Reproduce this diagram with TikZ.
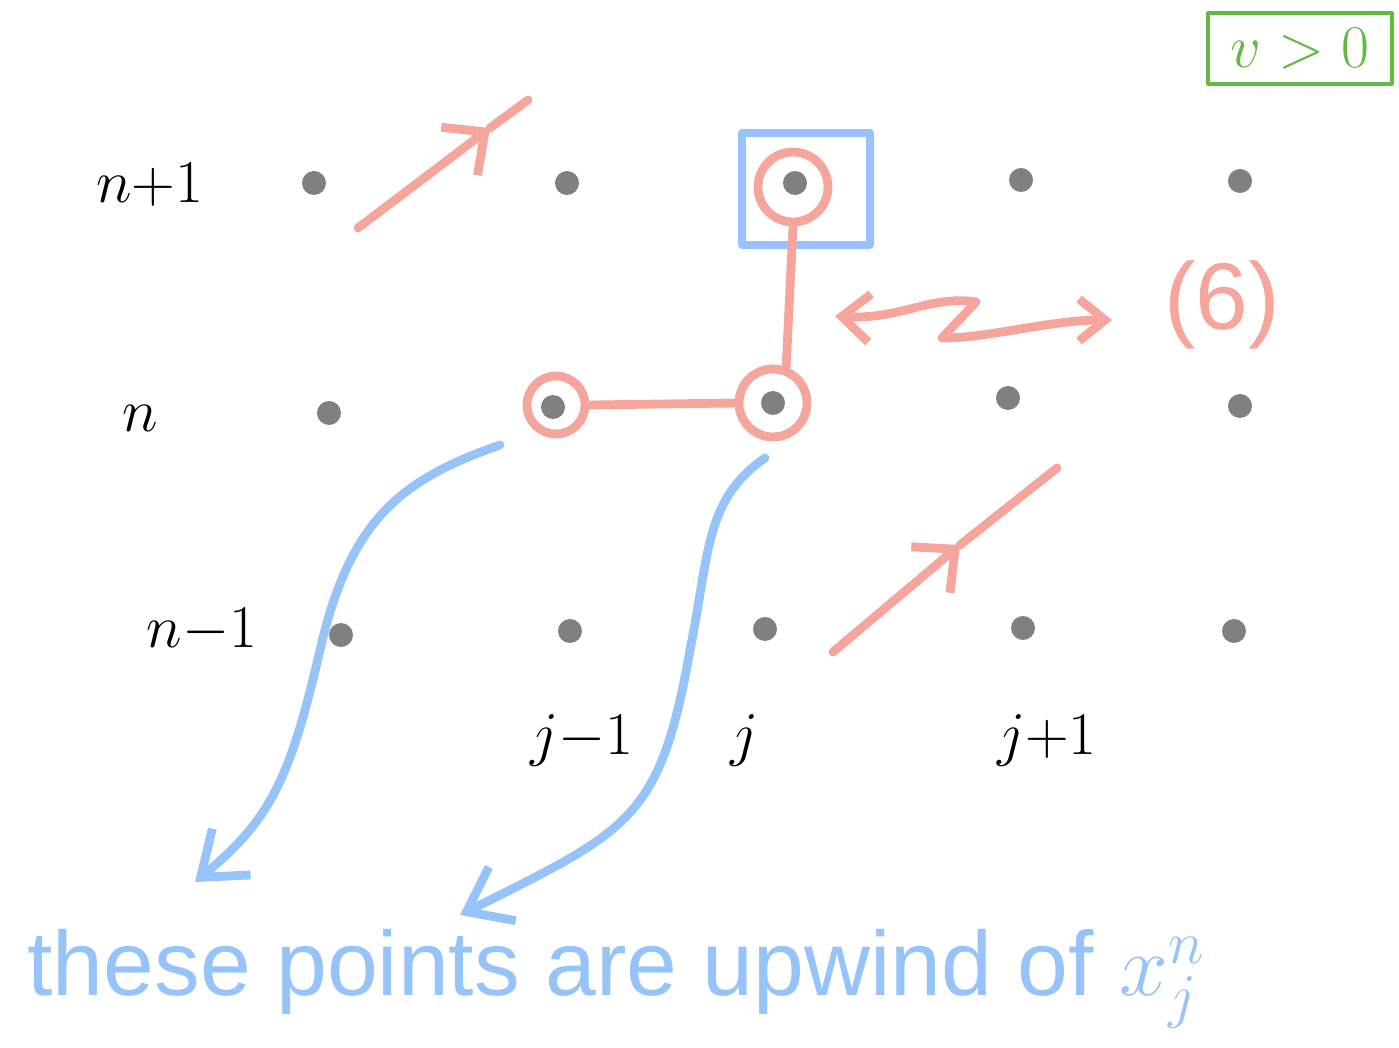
\documentclass[tikz,border=0pt]{standalone}
\usepackage{fontspec}
\setmainfont{Liberation Sans}
\usepackage{xcolor}
\usepackage{tikz}
\usetikzlibrary{arrows.meta,positioning}

\definecolor{redpen}{RGB}{245,165,155}
\definecolor{bluepen}{RGB}{150,195,250}
\definecolor{greenpen}{RGB}{100,185,70}
\definecolor{dotgray}{RGB}{128,128,128}

\begin{document}
\begin{tikzpicture}[line cap=round,line join=round,
  dot/.style={circle,fill=dotgray,inner sep=0pt,minimum size=0.24cm},
  ring/.style={circle,draw=redpen,line width=2.5pt,inner sep=0pt},
  redpath/.style={draw=redpen,line width=2.5pt},
  bluepath/.style={draw=bluepen,line width=2.5pt},
  barb/.style={-{Straight Barb[length=3.2mm,width=6mm]}},
  lbl/.style={font=\fontsize{16}{19}\selectfont}]
  \useasboundingbox (0,0) rectangle (13.99,-10.48);

  \node[dot] (t1) at (3.14,-1.83) {};
  \node[dot] (t2) at (5.67,-1.83) {};
  \node[dot] (t3) at (7.95,-1.83) {};
  \node[dot] (t4) at (10.21,-1.80) {};
  \node[dot] (t5) at (12.40,-1.81) {};
  \node[dot] (m1) at (3.29,-4.13) {};
  \node[dot] (m2) at (5.53,-4.07) {};
  \node[dot] (m3) at (7.73,-4.03) {};
  \node[dot] (m4) at (10.08,-3.98) {};
  \node[dot] (m5) at (12.40,-4.06) {};
  \node[dot] (b1) at (3.41,-6.35) {};
  \node[dot] (b2) at (5.70,-6.31) {};
  \node[dot] (b3) at (7.65,-6.29) {};
  \node[dot] (b4) at (10.23,-6.28) {};
  \node[dot] (b5) at (12.34,-6.31) {};

  \node[lbl] (ltop) at (1.50,-1.85) {$n{+}1$};
  \node[lbl] (lmid) at (1.40,-4.18) {$n$};
  \node[lbl] (lbot) at (2.02,-6.30) {$n{-}1$};
  \node[lbl] (lj1) at (5.82,-7.40) {$j{-}1$};
  \node[lbl] (lj2) at (7.45,-7.40) {$j$};
  \node[lbl] (lj3) at (10.47,-7.40) {$j{+}1$};

  \node[ring,minimum size=0.70cm] (rt) at (7.93,-1.87) {};
  \node[ring,minimum size=0.58cm] (rm2) at (5.56,-4.05) {};
  \node[ring,minimum size=0.68cm] (rm3) at (7.73,-4.03) {};
  \node[draw=bluepen,line width=2pt,minimum width=1.28cm,minimum height=1.12cm] (sq) at (8.06,-1.89) {};
  \path[redpath]
    (rt.south) edge (rm3.70)
    (rm2.east) edge (rm3.west);

  \coordinate (a1s) at (3.58,-2.28);
  \coordinate (a1m) at (4.90,-1.28);
  \coordinate (a1e) at (5.28,-1.00);
  \draw[redpath,barb] (a1s) -- (a1m);
  \draw[redpath] (a1m) -- (a1e);
  \coordinate (a2s) at (8.33,-6.52);
  \coordinate (a2m) at (9.60,-5.45);
  \coordinate (a2e) at (10.57,-4.68);
  \draw[redpath,barb] (a2s) -- (a2m);
  \draw[redpath] (a2m) -- (a2e);

  \coordinate (zl) at (8.35,-3.16);
  \coordinate (zr) at (11.12,-3.20);
  \draw[redpath,{Straight Barb[length=2.8mm,width=4.8mm]}-{Straight Barb[length=2.6mm,width=4.2mm]}]
    (zl) .. controls (9.0,-3.2) and (9.3,-2.95) .. (9.76,-3.02)
    -- (9.42,-3.38) .. controls (9.9,-3.38) and (10.5,-3.2) .. (zr);
  \node[text=redpen,font=\fontsize{27}{31}\selectfont] (six) at (12.22,-3.05) {(6)};

  \node[draw=greenpen,line width=0.9pt,minimum width=1.84cm,minimum height=0.71cm,
    text=greenpen,font=\fontsize{16}{18}\selectfont] (cond) at (13.00,-0.485) {$v>0$};

  \coordinate (c1s) at (5.00,-4.45);
  \coordinate (c1e) at (1.95,-8.82);
  \draw[bluepath,-{Straight Barb[length=4mm,width=6mm]}]
    (c1s) .. controls (4.0,-4.8) and (3.5,-5.2) .. (3.2,-6.5)
    .. controls (2.9,-7.8) and (2.7,-8.2) .. (c1e);
  \coordinate (c2s) at (7.65,-4.58);
  \coordinate (c2e) at (4.60,-9.15);
  \draw[bluepath,-{Straight Barb[length=4mm,width=6mm]}]
    (c2s) .. controls (7.05,-5.0) and (7.1,-5.5) .. (6.9,-6.5)
    .. controls (6.6,-8.2) and (6.3,-8.3) .. (c2e);

  \node[text=bluepen,font=\fontsize{26}{31}\selectfont,anchor=base west] (note) at (0.15,-9.95)
    {these points are upwind of $x^{n}_{j}$};
\end{tikzpicture}
\end{document}
